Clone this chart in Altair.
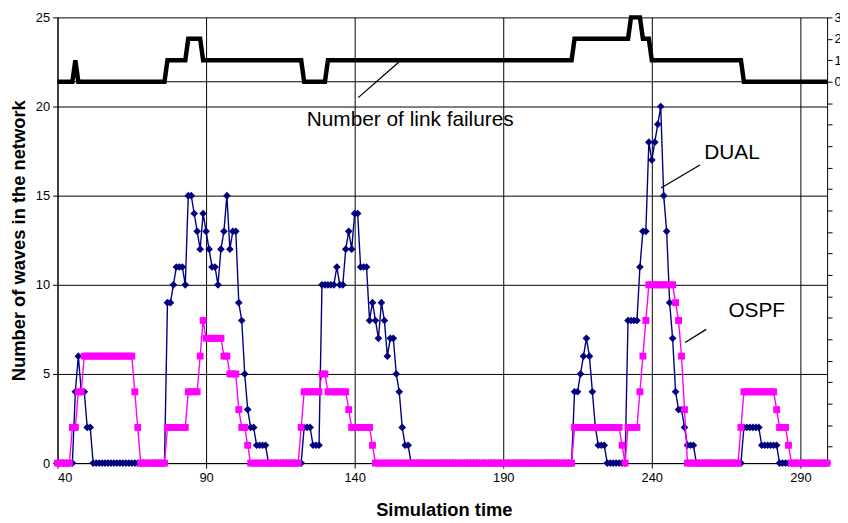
import altair as alt
import pandas as pd

# ---------------- data ----------------
time = list(range(40, 300))

dual = [
    0, 0, 0, 0, 0, 0, 4, 6, 4, 4,          # 40-49
    2, 2, 0, 0, 0, 0, 0, 0, 0, 0,          # 50-59
    0, 0, 0, 0, 0, 0, 0, 0, 0, 0,          # 60-69
    0, 0, 0, 0, 0, 0, 0, 9, 9, 10,         # 70-79
    11, 11, 11, 10, 15, 15, 14, 13, 12, 14,  # 80-89
    13, 12, 11, 11, 10, 12, 13, 15, 12, 13,  # 90-99
    13, 9, 8, 5, 3, 2, 2, 1, 1, 1,         # 100-109
    1, 0, 0, 0, 0, 0, 0, 0, 0, 0,          # 110-119
    0, 0, 0, 2, 2, 2, 1, 1, 1, 10,         # 120-129
    10, 10, 10, 10, 11, 10, 10, 12, 13, 12,  # 130-139
    14, 14, 11, 11, 11, 8, 9, 8, 7, 9,     # 140-149
    8, 6, 7, 7, 5, 4, 2, 1, 1, 0,          # 150-159
    0, 0, 0, 0, 0, 0, 0, 0, 0, 0,          # 160-169
    0, 0, 0, 0, 0, 0, 0, 0, 0, 0,          # 170-179
    0, 0, 0, 0, 0, 0, 0, 0, 0, 0,          # 180-189
    0, 0, 0, 0, 0, 0, 0, 0, 0, 0,          # 190-199
    0, 0, 0, 0, 0, 0, 0, 0, 0, 0,          # 200-209
    0, 0, 0, 0, 4, 4, 5, 6, 7, 6,          # 210-219
    4, 2, 1, 1, 1, 0, 0, 0, 0, 0,          # 220-229
    0, 0, 8, 8, 8, 8, 11, 13, 13, 18,      # 230-239
    17, 18, 19, 20, 15, 13, 9, 7, 4, 3,    # 240-249
    3, 2, 1, 1, 1, 0, 0, 0, 0, 0,          # 250-259
    0, 0, 0, 0, 0, 0, 0, 0, 0, 0,          # 260-269
    0, 2, 2, 2, 2, 2, 2, 1, 1, 1,          # 270-279
    1, 1, 1, 0, 0, 0, 0, 0, 0, 0,          # 280-289
    0, 0, 0, 0, 0, 0, 0, 0, 0, 0,          # 290-299
]

ospf = [
    0, 0, 0, 0, 0, 2, 2, 4, 4, 6,          # 40-49
    6, 6, 6, 6, 6, 6, 6, 6, 6, 6,          # 50-59
    6, 6, 6, 6, 6, 6, 4, 2, 0, 0,          # 60-69
    0, 0, 0, 0, 0, 0, 0, 2, 2, 2,          # 70-79
    2, 2, 2, 2, 4, 4, 4, 4, 6, 8,          # 80-89
    7, 7, 7, 7, 7, 7, 6, 6, 5, 5,          # 90-99
    5, 3, 2, 2, 1, 0, 0, 0, 0, 0,          # 100-109
    0, 0, 0, 0, 0, 0, 0, 0, 0, 0,          # 110-119
    0, 0, 2, 4, 4, 4, 4, 4, 4, 5,          # 120-129
    5, 4, 4, 4, 4, 4, 4, 4, 3, 2,          # 130-139
    2, 2, 2, 2, 2, 2, 1, 0, 0, 0,          # 140-149
    0, 0, 0, 0, 0, 0, 0, 0, 0, 0,          # 150-159
    0, 0, 0, 0, 0, 0, 0, 0, 0, 0,          # 160-169
    0, 0, 0, 0, 0, 0, 0, 0, 0, 0,          # 170-179
    0, 0, 0, 0, 0, 0, 0, 0, 0, 0,          # 180-189
    0, 0, 0, 0, 0, 0, 0, 0, 0, 0,          # 190-199
    0, 0, 0, 0, 0, 0, 0, 0, 0, 0,          # 200-209
    0, 0, 0, 0, 2, 2, 2, 2, 2, 2,          # 210-219
    2, 2, 2, 2, 2, 2, 2, 2, 2, 2,          # 220-229
    1, 0, 2, 2, 2, 2, 4, 6, 8, 10,         # 230-239
    10, 10, 10, 10, 10, 10, 10, 10, 9, 8,  # 240-249
    6, 3, 0, 0, 0, 0, 0, 0, 0, 0,          # 250-259
    0, 0, 0, 0, 0, 0, 0, 0, 0, 0,          # 260-269
    2, 4, 4, 4, 4, 4, 4, 4, 4, 4,          # 270-279
    4, 4, 3, 2, 2, 2, 1, 0, 0, 0,          # 280-289
    0, 0, 0, 0, 0, 0, 0, 0, 0, 0,          # 290-299
]

failures = [
    0, 0, 0, 0, 0, 0, 1, 0, 0, 0,          # 40-49
    0, 0, 0, 0, 0, 0, 0, 0, 0, 0,          # 50-59
    0, 0, 0, 0, 0, 0, 0, 0, 0, 0,          # 60-69
    0, 0, 0, 0, 0, 0, 0, 1, 1, 1,          # 70-79
    1, 1, 1, 1, 2, 2, 2, 2, 2, 1,          # 80-89
    1, 1, 1, 1, 1, 1, 1, 1, 1, 1,          # 90-99
    1, 1, 1, 1, 1, 1, 1, 1, 1, 1,          # 100-109
    1, 1, 1, 1, 1, 1, 1, 1, 1, 1,          # 110-119
    1, 1, 1, 0, 0, 0, 0, 0, 0, 0,          # 120-129
    0, 1, 1, 1, 1, 1, 1, 1, 1, 1,          # 130-139
    1, 1, 1, 1, 1, 1, 1, 1, 1, 1,          # 140-149
    1, 1, 1, 1, 1, 1, 1, 1, 1, 1,          # 150-159
    1, 1, 1, 1, 1, 1, 1, 1, 1, 1,          # 160-169
    1, 1, 1, 1, 1, 1, 1, 1, 1, 1,          # 170-179
    1, 1, 1, 1, 1, 1, 1, 1, 1, 1,          # 180-189
    1, 1, 1, 1, 1, 1, 1, 1, 1, 1,          # 190-199
    1, 1, 1, 1, 1, 1, 1, 1, 1, 1,          # 200-209
    1, 1, 1, 1, 2, 2, 2, 2, 2, 2,          # 210-219
    2, 2, 2, 2, 2, 2, 2, 2, 2, 2,          # 220-229
    2, 2, 2, 3, 3, 3, 3, 2, 2, 2,          # 230-239
    1, 1, 1, 1, 1, 1, 1, 1, 1, 1,          # 240-249
    1, 1, 1, 1, 1, 1, 1, 1, 1, 1,          # 250-259
    1, 1, 1, 1, 1, 1, 1, 1, 1, 1,          # 260-269
    1, 0, 0, 0, 0, 0, 0, 0, 0, 0,          # 270-279
    0, 0, 0, 0, 0, 0, 0, 0, 0, 0,          # 280-289
    0, 0, 0, 0, 0, 0, 0, 0, 0, 0,          # 290-299
]

x_ticks = [40, 90, 140, 190, 240, 290]
y_ticks = [0, 5, 10, 15, 20, 25]
fail_ticks = list(range(-17, 4))

# annotation labels and their leader lines
ann_text = ["Number of link failures", "DUAL", "OSPF"]
ann_tx = [158.7, 267.0, 275.3]
ann_ty = [18.9, 17.06, 8.22]
lead_x = [141.2, 243.1, 251.2]
lead_y = [20.5, 15.43, 6.76]
lead_x2 = [154.9, 256.2, 258.3]
lead_y2 = [22.5, 16.72, 7.5]

# ---------------- chart ----------------
df = pd.DataFrame({"t": time, "DUAL": dual, "OSPF": ospf, "fail": failures})
ann = pd.DataFrame({"text": ann_text, "x": ann_tx, "y": ann_ty})
leads = pd.DataFrame({"x": lead_x, "y": lead_y, "x2": lead_x2, "y2": lead_y2})
zero_rule = pd.DataFrame({"f": [0]})

REG = "Liberation Sans, Arial"

xs = alt.Scale(domain=[40, 299], nice=False, zero=False)
ys = alt.Scale(domain=[0, 25], nice=False)
fs = alt.Scale(domain=[-17.77, 3], nice=False, zero=False)

x_axis = alt.Axis(
    values=x_ticks, grid=True, gridColor="#000000", gridWidth=1,
    domainColor="#000000", tickColor="#000000", tickSize=5,
    labelFont=REG, labelFontSize=13, labelColor="#000000", labelPadding=4,
    title="Simulation time", titleFont=REG, titleFontSize=18.5,
    titleFontWeight="bold", titleColor="#000000",
    titleX=390, titleY=47, titleBaseline="middle", titleAlign="center",
)
y_axis = alt.Axis(
    values=y_ticks, grid=True, gridColor="#000000", gridWidth=1,
    domainColor="#000000", tickColor="#000000", tickSize=5,
    labelFont=REG, labelFontSize=13, labelColor="#000000", labelPadding=3,
    title="Number of waves in the network", titleFont=REG, titleFontSize=18.5,
    titleFontWeight="bold", titleColor="#000000",
    titleX=-39, titleY=225, titleAngle=270, titleBaseline="middle", titleAlign="center",
)
f_axis = alt.Axis(
    orient="right", values=fail_ticks, grid=False,
    labelExpr="datum.value >= 0 ? datum.label : ''",
    domainColor="#000000", tickColor="#000000", tickSize=5,
    labelFont=REG, labelFontSize=13, labelColor="#000000", labelPadding=2,
    title="",
)

base = alt.Chart(df)
X = alt.X("t:Q", scale=xs, axis=x_axis)

dual_line = base.mark_line(color="#000080", strokeWidth=1.4).encode(
    x=X, y=alt.Y("DUAL:Q", scale=ys, axis=y_axis))
dual_pts = base.mark_point(shape="diamond", filled=True, size=60, color="#000080", opacity=1).encode(
    x="t:Q", y="DUAL:Q")
ospf_line = base.mark_line(color="#FF00FF", strokeWidth=1.4).encode(
    x="t:Q", y="OSPF:Q")
ospf_pts = base.mark_point(shape="square", filled=True, size=48, color="#FF00FF", opacity=1).encode(
    x="t:Q", y="OSPF:Q")

lead_rules = alt.Chart(leads).mark_rule(color="#000000", strokeWidth=1.3).encode(
    x="x:Q", y="y:Q", x2="x2:Q", y2="y2:Q")
labels = alt.Chart(ann).mark_text(
    font=REG, fontSize=21, color="#000000", align="center", baseline="alphabetic"
).encode(x="x:Q", y="y:Q", text="text:N")

left = alt.layer(dual_line, dual_pts, ospf_line, ospf_pts, lead_rules, labels)

fail_zero = alt.Chart(zero_rule).mark_rule(color="#000000", strokeWidth=1).encode(
    y=alt.Y("f:Q", scale=fs, axis=f_axis))
fail_line = base.mark_line(color="#000000", strokeWidth=4.5, strokeJoin="miter").encode(
    x=alt.X("t:Q", scale=xs), y=alt.Y("fail:Q", scale=fs, axis=f_axis))

right = alt.layer(fail_zero, fail_line)

chart = alt.layer(left, right).resolve_scale(y="independent").properties(
    width=777, height=450,
    autosize=alt.AutoSizeParams(type="none"),
    padding={"left": 50, "top": 7, "right": 13, "bottom": 58},
    background="#ffffff",
).configure_view(strokeWidth=0)

chart.save("out.html", embed_options={"renderer": "svg", "actions": False})
